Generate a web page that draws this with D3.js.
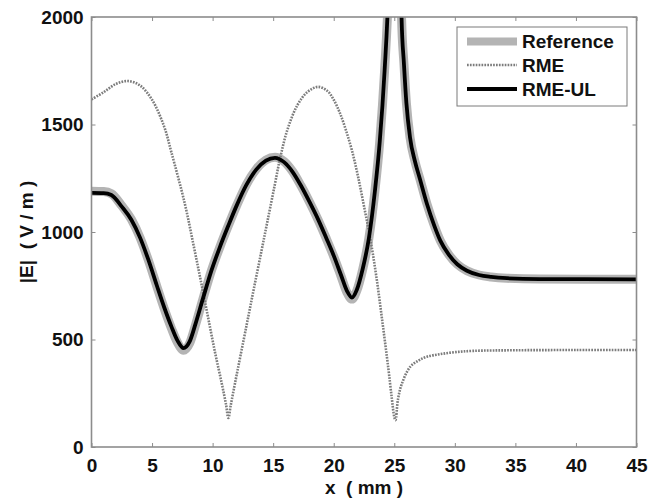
<!DOCTYPE html>
<html><head><meta charset="utf-8">
<script src="https://cdn.jsdelivr.net/npm/d3@7"></script>
<style>
html,body{margin:0;padding:0;background:#fff;}
text{font-family:"Liberation Sans",Arial,sans-serif;font-weight:bold;fill:#111;}
</style></head>
<body>
<svg id="c" width="651" height="504"></svg>
<script>
// ---- data ----
const xTicks = [0,5,10,15,20,25,30,35,40,45];
const yTicks = [0,500,1000,1500,2000];
const seriesNames = ["Reference","RME","RME-UL"];

const rmeX = [0,1,2,3,4,5,6,6.6,7.7,8.4,9,9.6,10.2,10.75,11.1,11.3,11.5,11.85,12.8,13.4,14.05,14.5,15.1,15.6,16.2,17,17.8,18.7,19.5,20,20.5,21,21.5,22,22.5,23,23.5,24,24.5,24.8,25.0,25.1,25.3,25.6,26.3,27,27.7,28.8,30,31.5,35,40,45];
const rmeY = [1617,1650,1688,1702,1682,1615,1490,1370,1133,946,780,610,440,297,200,135,195,297,565,735,916,1042,1210,1350,1480,1590,1650,1675,1655,1615,1555,1475,1380,1260,1120,975,800,590,370,225,140,125,220,290,372,402,420,432,441,447,450,451,451];

const ulX = [0,1,1.64,2.5,3.3,4,4.7,5.4,6,6.6,7.1,7.6,8.1,8.6,9.2,9.9,10.6,11.3,12,12.8,13.6,14.4,15.15,15.9,16.6,17.3,18,18.7,19.4,20,20.6,21.1,21.5,21.9,22.4,22.9,23.4,23.8,24.2,24.5,24.8,25.1,25.35,25.6,25.8,26,26.3,26.7,27.1,27.7,28.3,28.8,29.5,30.2,31,32,33,34.3,37,45];
const ulY = [1182,1181,1172,1118,1056,975,870,750,650,560,495,460,490,575,690,820,930,1030,1125,1220,1290,1332,1345,1325,1280,1215,1140,1060,970,890,800,725,695,730,830,970,1190,1420,1750,2100,2800,3300,3000,2000,1780,1600,1440,1330,1250,1130,1030,960,895,850,820,800,791,785,781,780];

const refX = ulX;
const refY = [1190,1188,1178,1122,1058,975,868,746,644,552,486,450,482,570,688,820,930,1030,1125,1222,1292,1335,1348,1328,1282,1215,1140,1058,968,886,795,718,688,726,828,970,1190,1420,1750,2100,2800,3300,3000,2000,1780,1600,1440,1330,1250,1130,1030,960,895,850,820,800,791,785,781,780];

// ---- layout ----
const svg = d3.select("#c");
const L = 91.5, R = 636.5, T = 17, B = 447;
const FS = "19px";
const x = d3.scaleLinear().domain([0,45]).range([L,R]);
const y = d3.scaleLinear().domain([0,2000]).range([B,T]);

svg.append("defs").append("clipPath").attr("id","clip")
  .append("rect").attr("x",L).attr("y",T).attr("width",R-L).attr("height",B-T);

const plot = svg.append("g").attr("clip-path","url(#clip)");
const smooth = d3.line().x(d=>x(d[0])).y(d=>y(d[1])).curve(d3.curveMonotoneX);
const rmeLine = d3.line().x(d=>x(d[0])).y(d=>y(d[1])).curve(d3.curveCatmullRom.alpha(0.5));

plot.append("path").datum(d3.zip(refX,refY)).attr("d",smooth)
  .attr("fill","none").attr("stroke","#b4b4b4").attr("stroke-width",9).attr("stroke-linejoin","round");
plot.append("path").datum(d3.zip(rmeX,rmeY)).attr("d",rmeLine)
  .attr("fill","none").attr("stroke","#7c7c7c").attr("stroke-width",2.6).attr("stroke-dasharray","1.7,1.2");
plot.append("path").datum(d3.zip(ulX,ulY)).attr("d",smooth)
  .attr("fill","none").attr("stroke","#000").attr("stroke-width",3.8).attr("stroke-linejoin","round");

// frame
const axisColor = "#8c8c8c";
svg.append("rect").attr("x",L).attr("y",T).attr("width",R-L).attr("height",B-T)
  .attr("fill","none").attr("stroke",axisColor).attr("stroke-width",1.6);

// axes (ticks inward)
const fmt = d3.format("d");
const gx = svg.append("g").attr("transform",`translate(0,${B})`)
  .call(d3.axisBottom(x).tickValues(xTicks).tickFormat(fmt).tickSizeInner(-4).tickSizeOuter(0).tickPadding(12));
const gxt = svg.append("g").attr("transform",`translate(0,${T})`)
  .call(d3.axisTop(x).tickValues(xTicks).tickSizeInner(-4).tickSizeOuter(0).tickFormat(""));
const gy = svg.append("g").attr("transform",`translate(${L},0)`)
  .call(d3.axisLeft(y).tickValues(yTicks).tickFormat(fmt).tickSizeInner(-4).tickSizeOuter(0).tickPadding(6));
const gyr = svg.append("g").attr("transform",`translate(${R},0)`)
  .call(d3.axisRight(y).tickValues(yTicks).tickSizeInner(-4).tickSizeOuter(0).tickFormat(""));
[gx,gxt,gy,gyr].forEach(g=>{
  g.select(".domain").remove();
  g.selectAll(".tick line").attr("stroke",axisColor).attr("stroke-width",1);
  g.selectAll("text").attr("font-size",FS).attr("font-family","Liberation Sans, Arial, sans-serif")
    .attr("font-weight","bold").attr("fill","#111");
});
gx.selectAll("text").attr("dy","0.71em");
gy.selectAll("text").attr("dx","-0.1em");

// axis titles
svg.append("text").attr("x",(L+R)/2).attr("y",494).attr("text-anchor","middle")
  .attr("font-size",FS).style("white-space","pre").text("x  ( mm )");
svg.append("text").attr("transform",`translate(33,${(T+B)/2}) rotate(-90)`).attr("text-anchor","middle")
  .attr("font-size",FS).style("white-space","pre").text("|E|  ( V / m )");

// legend
const lg = svg.append("g");
lg.append("rect").attr("x",457).attr("y",27).attr("width",170).attr("height",79)
  .attr("fill","#fff").attr("stroke","#7a7a7a").attr("stroke-width",1);
const rows = [41.5,65,89];
const styles = [
  {stroke:"#b4b4b4",w:8,dash:null},
  {stroke:"#7c7c7c",w:2.6,dash:"1.7,1.2"},
  {stroke:"#000",w:3.8,dash:null}
];
seriesNames.forEach((n,i)=>{
  const l = lg.append("line").attr("x1",467).attr("x2",517).attr("y1",rows[i]).attr("y2",rows[i])
    .attr("stroke",styles[i].stroke).attr("stroke-width",styles[i].w);
  if(styles[i].dash) l.attr("stroke-dasharray",styles[i].dash);
  lg.append("text").attr("x",522).attr("y",rows[i]).attr("dy","0.36em")
    .attr("font-size",FS).text(n);
});
</script>
</body></html>
